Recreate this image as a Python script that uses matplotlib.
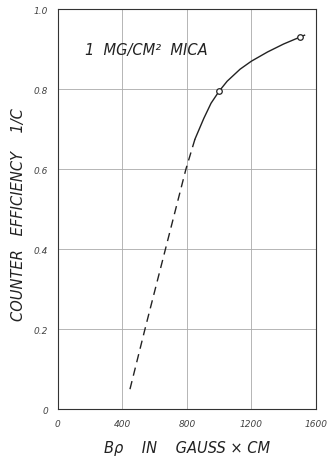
import matplotlib.pyplot as plt

# values
meas_x = [1000, 1500]
meas_y = [0.795, 0.93]

solid_x = [850, 905, 950, 1000, 1050, 1130, 1200, 1300, 1400, 1500, 1530]
solid_y = [0.675, 0.727, 0.765, 0.795, 0.82, 0.85, 0.87, 0.893, 0.913, 0.93, 0.935]

dash_x = [447, 540, 794, 850]
dash_y = [0.05, 0.2, 0.6, 0.675]

xticks = [0, 400, 800, 1200, 1600]
yticks = [0, 0.2, 0.4, 0.6, 0.8, 1.0]
yticklabels = ["0", "0.2", "0.4", "0.6", "0.8", "1.0"]

fig = plt.figure(figsize=(3.29, 4.64), dpi=100)
ax = fig.add_axes([0.176, 0.116, 0.784, 0.862])

ax.plot(solid_x, solid_y, color="#222222", lw=1.0)
ax.plot(dash_x, dash_y, color="#222222", lw=1.0, ls=(0, (6, 4)))
ax.plot(meas_x, meas_y, "o", mfc="white", mec="#222222", ms=4, mew=0.9)

ax.set_xlim(0, 1600)
ax.set_ylim(0, 1.0)
ax.set_xticks(xticks)
ax.set_xticklabels([str(t) for t in xticks], style="italic", fontsize=6.5, color="#444444")
ax.set_yticks(yticks)
ax.set_yticklabels(yticklabels, style="italic", fontsize=6.5, color="#444444")
ax.tick_params(length=0, pad=7)
ax.grid(True, color="#aaaaaa", lw=0.6)
for s in ax.spines.values():
    s.set_color("#333333")
    s.set_linewidth(0.8)

ax.text(167, 0.9, "1  MG/CM²  MICA", style="italic", fontsize=10.5, color="#222222", va="center")
ax.set_xlabel("Bρ    IN    GAUSS × CM", style="italic", fontsize=10.5, color="#222222", labelpad=9)
ax.set_ylabel("COUNTER   EFFICIENCY    1/C", style="italic", fontsize=10.5, color="#222222", labelpad=4)
ax.yaxis.set_label_coords(-0.125, 0.49)

fig.savefig("out.png", dpi=100, facecolor="white")
